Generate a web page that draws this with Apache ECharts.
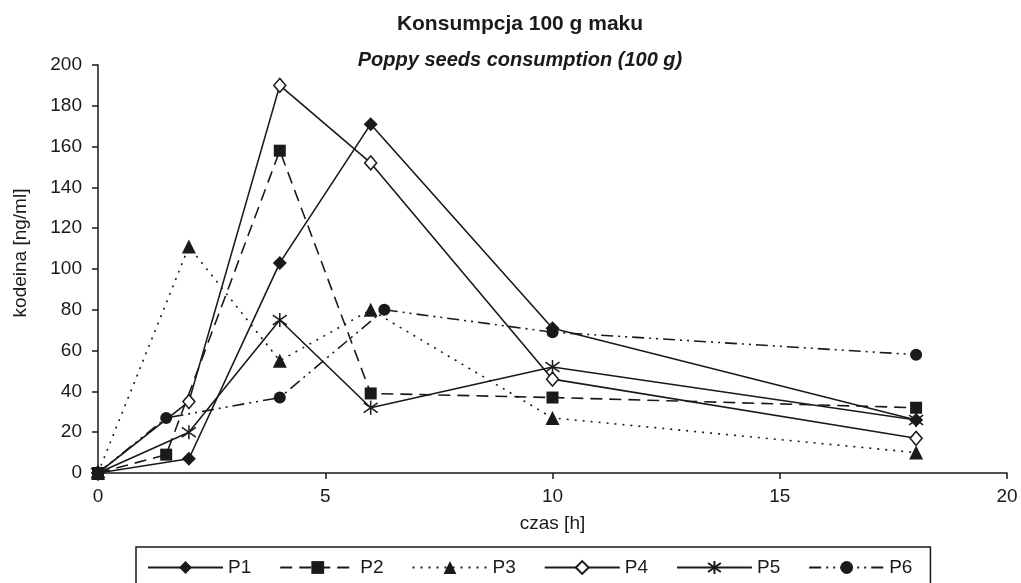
<!DOCTYPE html>
<html>
<head>
<meta charset="utf-8">
<script src="https://cdn.jsdelivr.net/npm/echarts@6/dist/echarts.min.js"></script>
<style>
  html, body { margin: 0; padding: 0; background: #fff; }
  #chart { width: 1021px; height: 583px; }
</style>
</head>
<body>
<div id="chart"></div>
<script>
// Data (x = czas [h], y = kodeina [ng/ml])
const seriesNames = ['P1', 'P2', 'P3', 'P4', 'P5', 'P6'];
const P1 = [[0, 0], [2, 7], [4, 103], [6, 171], [10, 71], [18, 26]];
const P2 = [[0, 0], [1.5, 9], [4, 158], [6, 39], [10, 37], [18, 32]];
const P3 = [[0, 0], [2, 111], [4, 55], [6, 80], [10, 27], [18, 10]];
const P4 = [[0, 0], [2, 35], [4, 190], [6, 152], [10, 46], [18, 17]];
const P5 = [[0, 0], [2, 20], [4, 75], [6, 32], [10, 52], [18, 26]];
const P6 = [[0, 0], [1.5, 27], [4, 37], [6.3, 80], [10, 69], [18, 58]];
const xTicks = [0, 5, 10, 15, 20];
const yTicks = [0, 20, 40, 60, 80, 100, 120, 140, 160, 180, 200];

const INK = '#1a1a1a';
const FONT = '"Liberation Sans", Arial, sans-serif';
const asterisk = 'path://M5,0 L5,10 M1.5,1.5 L8.5,8.5 M8.5,1.5 L1.5,8.5';

function mk(name, data, symbol, size, fill, dash) {
  return {
    name: name,
    type: 'line',
    data: data,
    symbol: symbol,
    symbolSize: size,
    showAllSymbol: true,
    color: INK,
    itemStyle: { color: fill, borderColor: INK, borderWidth: fill === '#fff' || symbol === asterisk ? 1.5 : 0 },
    lineStyle: { color: INK, width: 1.6, type: dash },
    emphasis: { disabled: true },
    z: 2
  };
}

const chart = echarts.init(document.getElementById('chart'), null, { renderer: 'canvas' });
chart.setOption({
  animation: false,
  backgroundColor: '#fff',
  title: [
    { text: 'Konsumpcja 100 g maku', left: 515, top: 9, textAlign: 'center',
      textStyle: { fontFamily: FONT, fontSize: 21, fontWeight: 'bold', color: INK } },
    { text: 'Poppy seeds consumption (100 g)', left: 515, top: 45, textAlign: 'center',
      textStyle: { fontFamily: FONT, fontSize: 20, fontWeight: 'bold', fontStyle: 'italic', color: INK } }
  ],
  grid: { left: 98, right: 14, top: 65, bottom: 110, containLabel: false },
  xAxis: {
    type: 'value', min: xTicks[0], max: xTicks[xTicks.length - 1], interval: 5,
    name: 'czas [h]', nameLocation: 'middle', nameGap: 41,
    nameTextStyle: { fontFamily: FONT, fontSize: 19, color: INK },
    axisLine: { lineStyle: { color: INK, width: 1.5 } },
    axisTick: { show: true, inside: false, length: 6, lineStyle: { color: INK, width: 1.5 } },
    axisLabel: { fontFamily: FONT, fontSize: 19, color: INK, margin: 14 },
    splitLine: { show: false }
  },
  yAxis: {
    type: 'value', min: yTicks[0], max: yTicks[yTicks.length - 1], interval: 20,
    name: 'kodeina [ng/ml]', nameLocation: 'middle', nameGap: 68,
    nameTextStyle: { fontFamily: FONT, fontSize: 19, color: INK, padding: [0, 0, 0, 32] },
    axisLine: { show: true, lineStyle: { color: INK, width: 1.5 } },
    axisTick: { show: true, inside: false, length: 6, lineStyle: { color: INK, width: 1.5 } },
    axisLabel: { fontFamily: FONT, fontSize: 19, color: INK, margin: 16 },
    splitLine: { show: false }
  },
  legend: {
    left: 136, top: 547,
    orient: 'horizontal',
    data: seriesNames,
    itemWidth: 75, itemHeight: 16, itemGap: 28,
    padding: [11, 18, 30, 11],
    borderColor: INK, borderWidth: 1.5,
    textStyle: { fontFamily: FONT, fontSize: 19, color: INK }
  },
  series: [
    mk('P1', P1, 'diamond', 14, INK, 'solid'),
    mk('P2', P2, 'rect', 12, INK, [12, 7]),
    mk('P3', P3, 'triangle', 14, INK, [2, 6]),
    mk('P4', P4, 'diamond', [12, 14], '#fff', 'solid'),
    mk('P5', P5, asterisk, 14, INK, 'solid'),
    mk('P6', P6, 'circle', 12, INK, [12, 5, 2, 5, 2, 5])
  ]
});
</script>
</body>
</html>
